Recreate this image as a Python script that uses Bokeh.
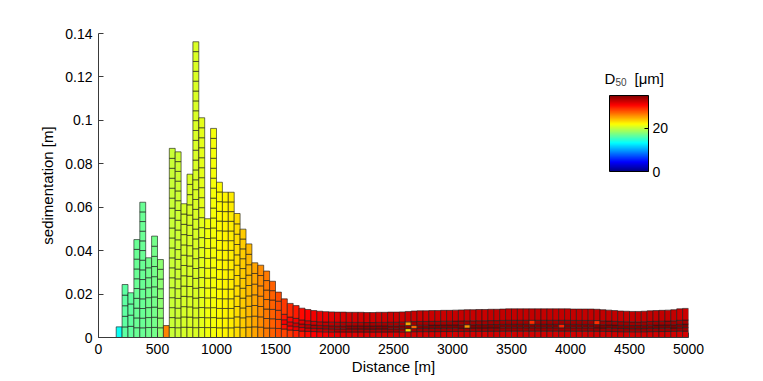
import numpy as np
from bokeh.plotting import figure
from bokeh.models import (ColumnDataSource, LinearColorMapper, ColorBar, FixedTicker,
                          CustomJSTickFormatter, Label, Range1d)
from bokeh.embed import file_html
from bokeh.resources import INLINE

# ---------------- data ----------------
bar_width = 50.0
bar_start = list(np.arange(150, 5000, 50))  # distance [m] of each bar's left edge

heights = [
    0.0049, 0.0244, 0.0206, 0.0451, 0.0623, 0.0367, 0.0467, 0.0359, 0.0055, 0.0871,
    0.0855, 0.0616, 0.0752, 0.1362, 0.1012, 0.0547, 0.0963, 0.0715, 0.0669, 0.0669,
    0.0571, 0.0499, 0.0431, 0.0344, 0.0333, 0.0306, 0.0259, 0.0209, 0.0178, 0.0157,
    0.0147, 0.0135, 0.0129, 0.0124, 0.0121, 0.0119, 0.0118, 0.0117, 0.0117, 0.0116,
    0.0116, 0.0116, 0.0115, 0.0115, 0.0116, 0.0116, 0.0117, 0.0117, 0.0118, 0.0120,
    0.0122, 0.0123, 0.0123, 0.0124, 0.0124, 0.0125, 0.0125, 0.0126, 0.0127, 0.0128,
    0.0128, 0.0129, 0.0129, 0.0130, 0.0130, 0.0131, 0.0132, 0.0132, 0.0132, 0.0132,
    0.0132, 0.0132, 0.0132, 0.0132, 0.0132, 0.0132, 0.0132, 0.0131, 0.0131, 0.0131,
    0.0131, 0.0130, 0.0128, 0.0126, 0.0124, 0.0122, 0.0121, 0.0120, 0.0120, 0.0121,
    0.0123, 0.0124, 0.0125, 0.0126, 0.0128, 0.0132, 0.0134,
]

d50 = [
    13.5, 16.4, 16.5, 16.7, 16.8, 17.0, 17.2, 18.0, 26.0, 20.0,
    20.2, 20.4, 20.6, 20.6, 21.0, 21.4, 21.6, 22.0, 22.2, 22.5,
    23.0, 23.6, 24.3, 25.0, 25.8, 26.5, 27.3, 28.0, 28.8, 29.4,
    30.0, 30.5, 30.9, 31.2, 31.4, 31.6, 31.8, 32.0, 32.1, 32.2,
    32.3, 32.3, 32.4, 32.4, 32.4, 32.5, 32.5, 32.5, 32.5, 32.5,
    32.6, 32.6, 32.6, 32.6, 32.6, 32.6, 32.7, 32.7, 32.7, 32.7,
    32.7, 32.7, 32.7, 32.8, 32.8, 32.8, 32.8, 32.8, 32.8, 32.8,
    32.8, 32.8, 32.8, 32.8, 32.8, 32.8, 32.8, 32.8, 32.8, 32.8,
    32.8, 32.8, 32.8, 32.8, 32.8, 32.8, 32.8, 32.8, 32.8, 32.8,
    32.8, 32.8, 32.8, 32.8, 32.8, 32.6, 32.6,
]

# thin-deposit layers (bottom -> top): share of thickness and D50 offset
tail_layer_share = [0.22, 0.12, 0.12, 0.14, 0.40]
tail_layer_d50_offset = [-0.6, 1.2, 2.0, 1.0, -0.2]
# coarse/fine spots seen in thin deposits: (bar start, layer, D50)
spots = [(2600, 1, 23.0), (2600, 3, 25.0), (2650, 2, 27.0), (3100, 2, 25.5),
         (3650, 3, 29.0), (3900, 2, 29.5), (4200, 3, 29.0)]

cell_thickness = 0.0046
clim = (0, 35)
x_ticks = [0, 500, 1000, 1500, 2000, 2500, 3000, 3500, 4000, 4500, 5000]
y_ticks = [0, 0.02, 0.04, 0.06, 0.08, 0.1, 0.12, 0.14]
cbar_ticks = [0, 20]

# ---------------- jet palette ----------------
def jet(t):
    r = np.clip(1.5 - abs(4 * t - 3), 0, 1)
    g = np.clip(1.5 - abs(4 * t - 2), 0, 1)
    b = np.clip(1.5 - abs(4 * t - 1), 0, 1)
    return "#%02x%02x%02x" % (int(round(r * 255)), int(round(g * 255)), int(round(b * 255)))

jet_palette = [jet(i / 255) for i in range(256)]
mapper = LinearColorMapper(palette=jet_palette, low=clim[0], high=clim[1])

# ---------------- build cells ----------------
spot_map = {(s, l): v for s, l, v in spots}
L, R, B, T, C = [], [], [], [], []
for x0, h, d in zip(bar_start, heights, d50):
    if h >= 0.02:
        n = int(round(h / cell_thickness))
        edges = np.linspace(0, h, n + 1)
        ds = [d] * n
    elif h < 0.01:
        edges = [0, h]
        ds = [d]
    else:
        cum = np.cumsum([0] + tail_layer_share)
        edges = cum / cum[-1] * h
        ds = [d + o for o in tail_layer_d50_offset]
        for li in range(len(ds)):
            if (int(x0), li) in spot_map:
                ds[li] = spot_map[(int(x0), li)]
    for i in range(len(ds)):
        L.append(x0)
        R.append(x0 + bar_width)
        B.append(edges[i])
        T.append(edges[i + 1])
        C.append(ds[i])

src = ColumnDataSource(dict(left=L, right=R, bottom=B, top=T, d50=C))

# ---------------- figure ----------------
FONT = "Liberation Sans"
p = figure(width=755, height=377, output_backend="svg", toolbar_location=None,
           x_range=Range1d(0, 5000), y_range=Range1d(0, 0.14),
           min_border_left=98, min_border_right=67, min_border_top=33, min_border_bottom=40)
p.outline_line_color = None
p.xgrid.visible = False
p.ygrid.visible = False
p.background_fill_color = "white"
p.border_fill_color = "white"

p.quad(left="left", right="right", bottom="bottom", top="top", source=src,
       fill_color={"field": "d50", "transform": mapper},
       line_color="#1e1e1e", line_width=0.8, line_alpha=0.8)

for ax in (p.xaxis[0], p.yaxis[0]):
    ax.axis_line_color = "#3a3a3a"
    ax.major_tick_line_color = "#3a3a3a"
    ax.major_tick_in = 5
    ax.major_tick_out = 0
    ax.minor_tick_line_color = None
    ax.major_label_text_font = FONT
    ax.major_label_text_font_size = "14px"
    ax.major_label_text_color = "black"
    ax.major_label_standoff = 6
    ax.axis_label_text_font = FONT
    ax.axis_label_text_font_size = "15px"
    ax.axis_label_text_font_style = "normal"
    ax.axis_label_text_color = "black"

p.xaxis.ticker = FixedTicker(ticks=x_ticks)
p.yaxis.ticker = FixedTicker(ticks=y_ticks)
p.yaxis.formatter = CustomJSTickFormatter(
    code="return tick == 0 ? '0' : tick.toFixed(2).replace(/0+$/, '');")
p.yaxis.axis_label = "sedimentation [m]"
p.yaxis.axis_label_standoff = 6
p.xaxis.axis_label = "Distance [m]"
p.xaxis.axis_label_standoff = 1

cb = ColorBar(color_mapper=mapper, ticker=FixedTicker(ticks=cbar_ticks),
              location=(511, 166), width=39, height=76, padding=0, margin=0,
              bar_line_color="black", bar_line_width=1,
              major_tick_line_color="black", major_tick_in=4, major_tick_out=0,
              minor_tick_line_color=None, label_standoff=4,
              major_label_text_font=FONT, major_label_text_font_size="14px",
              major_label_text_color="black",
              background_fill_alpha=0, border_line_color=None)
p.add_layout(cb, "center")

p.add_layout(Label(x=506, y=259, x_units="screen", y_units="screen", text="D",
                   text_baseline="alphabetic", text_font=FONT, text_font_size="15px",
                   text_color="black"))
p.add_layout(Label(x=517, y=256, x_units="screen", y_units="screen", text="50",
                   text_baseline="alphabetic", text_font=FONT, text_font_size="10px",
                   text_color="#444444"))
p.add_layout(Label(x=536, y=259, x_units="screen", y_units="screen", text="[\u03bcm]",
                   text_baseline="alphabetic", text_font=FONT, text_font_size="15px",
                   text_color="black"))

open("out.html", "w").write(file_html(p, INLINE))
